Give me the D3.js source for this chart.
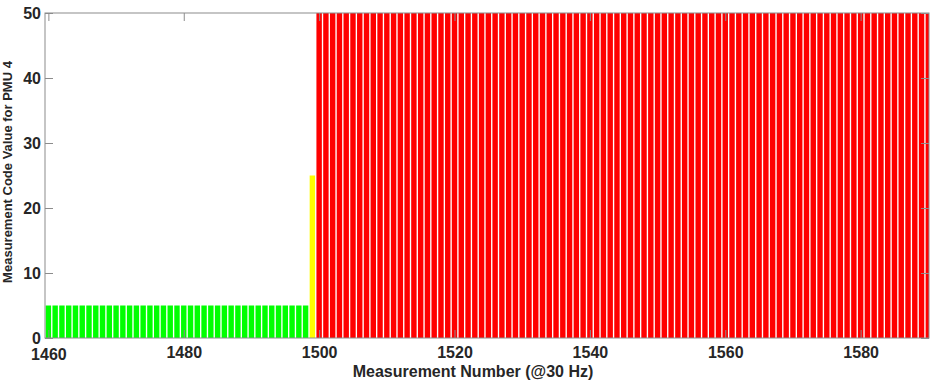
<!DOCTYPE html>
<html>
<head>
<meta charset="utf-8">
<script src="https://cdn.jsdelivr.net/npm/d3@7"></script>
<style>
  body { margin: 0; background: #fff; }
  text { font-family: "Liberation Sans", Arial, sans-serif; font-weight: bold; fill: #262626; }
</style>
</head>
<body>
<script>

// data

const measurements = d3.range(1460, 1591);
const codeValues = [
    5, 5, 5, 5, 5, 5, 5, 5, 5, 5,
    5, 5, 5, 5, 5, 5, 5, 5, 5, 5,
    5, 5, 5, 5, 5, 5, 5, 5, 5, 5,
    5, 5, 5, 5, 5, 5, 5, 5, 5, 25,
    50, 50, 50, 50, 50, 50, 50, 50, 50, 50,
    50, 50, 50, 50, 50, 50, 50, 50, 50, 50,
    50, 50, 50, 50, 50, 50, 50, 50, 50, 50,
    50, 50, 50, 50, 50, 50, 50, 50, 50, 50,
    50, 50, 50, 50, 50, 50, 50, 50, 50, 50,
    50, 50, 50, 50, 50, 50, 50, 50, 50, 50,
    50, 50, 50, 50, 50, 50, 50, 50, 50, 50,
    50, 50, 50, 50, 50, 50, 50, 50, 50, 50,
    50, 50, 50, 50, 50, 50, 50, 50, 50, 50,
    50, 50, 50, 50, 50, 50, 50, 50, 50, 50,
    25
];
const xTicks = [1460, 1480, 1500, 1520, 1540, 1560, 1580];
const yTicks = [0, 10, 20, 30, 40, 50];

const colorFor = v => v === 5 ? "#00ff00" : v === 25 ? "#ffff00" : "#ff0000";

// dimensions

const dms = {
    width: 943,
    height: 380,
    margins: { top: 13, right: 14, bottom: 42, left: 45 }
};
dms.innerWidth = dms.width - dms.margins.left - dms.margins.right;
dms.innerHeight = dms.height - dms.margins.top - dms.margins.bottom;

const svg = d3.select("body")
              .append("svg")
                .attr("width", dms.width)
                .attr("height", dms.height);

svg.append("clipPath")
     .attr("id", "plot-clip")
   .append("rect")
     .attr("width", dms.innerWidth)
     .attr("height", dms.innerHeight);

const g = svg.append("g")
               .attr("transform", `translate(${dms.margins.left},${dms.margins.top})`);

// scales

const xScale = d3.scaleLinear()
                 .domain([1459.5, 1590.1])
                 .range([0, dms.innerWidth]);

const yScale = d3.scaleLinear()
                 .domain([0, 50])
                 .range([dms.innerHeight, 0]);

const step = xScale(1) - xScale(0);
const barW = step * 0.8;

// bars

g.append("g")
   .attr("clip-path", "url(#plot-clip)")
 .selectAll("rect")
   .data(measurements)
   .enter()
   .append("rect")
     .attr("x", d => xScale(d) - barW / 2)
     .attr("y", (d, i) => yScale(codeValues[i]))
     .attr("width", barW)
     .attr("height", (d, i) => dms.innerHeight - yScale(codeValues[i]))
     .attr("fill", (d, i) => colorFor(codeValues[i]));

// axes

const tickLen = 8;
const axisColor = "#8c8c8c";

const styleAxis = sel => {
    sel.select(".domain").remove();
    sel.selectAll(".tick line").attr("stroke", axisColor);
    sel.selectAll(".tick text").attr("font-size", 16);
};

const xAxis = g.append("g")
  .attr("transform", `translate(0,${dms.innerHeight})`)
  .call(d3.axisBottom(xScale).tickValues(xTicks).tickFormat(d3.format("d"))
          .tickSizeInner(-tickLen).tickSizeOuter(0))
  .call(styleAxis);
xAxis.selectAll(".tick text").attr("y", 20).attr("dy", 0);
xAxis.selectAll(".tick").filter(d => d === 1460).select("text").attr("y", 22);

g.append("g")
  .call(d3.axisTop(xScale).tickValues(xTicks).tickFormat("")
          .tickSizeInner(-tickLen).tickSizeOuter(0))
  .call(styleAxis);

g.append("g")
  .call(d3.axisLeft(yScale).tickValues(yTicks)
          .tickSizeInner(-tickLen).tickSizeOuter(0).tickPadding(4))
  .call(styleAxis);

g.append("g")
  .attr("transform", `translate(${dms.innerWidth},0)`)
  .call(d3.axisRight(yScale).tickValues(yTicks).tickFormat("")
          .tickSizeInner(-tickLen).tickSizeOuter(0))
  .call(styleAxis);

// box

g.append("rect")
   .attr("width", dms.innerWidth)
   .attr("height", dms.innerHeight)
   .attr("fill", "none")
   .attr("stroke", axisColor)
   .attr("stroke-width", 1);

// labels

svg.append("text")
     .attr("x", 473)
     .attr("y", 377)
     .attr("text-anchor", "middle")
     .attr("font-size", 16)
     .text("Measurement Number (@30 Hz)");

svg.append("text")
     .attr("transform", "translate(12,172) rotate(-90)")
     .attr("text-anchor", "middle")
     .attr("font-size", 13)
     .text("Measurement Code Value for PMU 4");

</script>
</body>
</html>
